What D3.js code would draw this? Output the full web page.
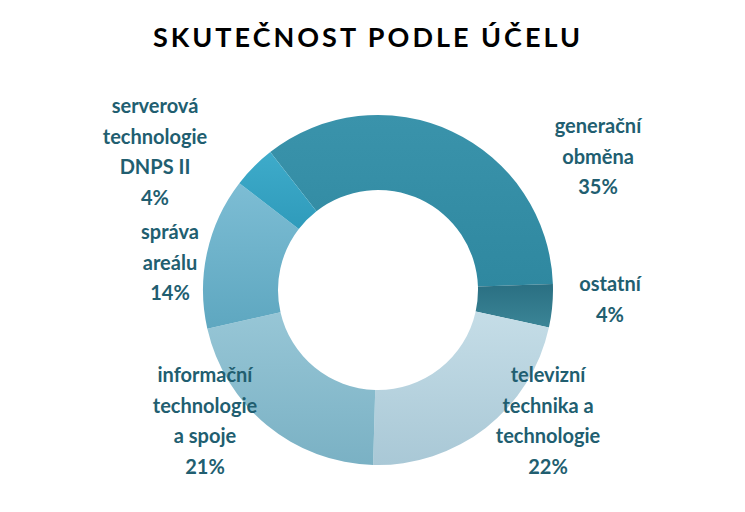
<!DOCTYPE html>
<html><head><meta charset="utf-8">
<script src="https://cdn.jsdelivr.net/npm/d3@7"></script>
<style>body{margin:0;background:#fff}</style>
</head><body>
<script>
var categories = ["generační obměna", "ostatní", "televizní technika a technologie", "informační technologie a spoje", "správa areálu", "serverová technologie DNPS II"];
var values = [35, 4, 22, 21, 14, 4];
var labelLines = [["generační", "obměna"], ["ostatní"], ["televizní", "technika a", "technologie"], ["informační", "technologie", "a spoje"], ["správa", "areálu"], ["serverová", "technologie", "DNPS II"]];
var colors = [["#3a93ab", "#2f88a0"], ["#2a6f82", "#3b8597"], ["#c5dde7", "#a9c8d6"], ["#97c6d6", "#7ab1c4"], ["#7dbdd4", "#5ea7c0"], ["#3eabca", "#2f9bbb"]];
// label anchor positions (layout only)
var labelPos = [[598, 133], [610, 291], [548, 382], [205, 382], [170, 239], [155, 113]];

var width = 745, height = 512, cx = 378, cy = 290, rOut = 175, rIn = 100;

var svg = d3.select("body").append("svg")
    .attr("width", width)
    .attr("height", height);

var defs = svg.append("defs");
colors.forEach(function(c, i) {
  var g = defs.append("linearGradient").attr("id", "g" + i)
      .attr("x1", "0").attr("y1", "0").attr("x2", "0").attr("y2", "1");
  g.append("stop").attr("offset", "0").attr("stop-color", c[0]);
  g.append("stop").attr("offset", "1").attr("stop-color", c[1]);
});

svg.append("text")
    .attr("x", 368).attr("y", 47)
    .attr("text-anchor", "middle")
    .attr("font-family", "Lato, 'Open Sans', sans-serif")
    .attr("font-weight", "bold")
    .attr("font-size", 27)
    .attr("letter-spacing", 3)
    .text("SKUTEČNOST PODLE ÚČELU");

var start = -38 * Math.PI / 180;
var pie = d3.pie().sort(null).startAngle(start).endAngle(start + 2 * Math.PI);
var arc = d3.arc().innerRadius(rIn).outerRadius(rOut);

svg.append("g").attr("transform", "translate(" + cx + "," + cy + ")")
  .selectAll("path").data(pie(values)).enter().append("path")
    .attr("d", arc)
    .attr("fill", function(d, i) { return "url(#g" + i + ")"; });

var lab = svg.selectAll("text.lab").data(values).enter().append("text")
    .attr("class", "lab")
    .attr("text-anchor", "middle")
    .attr("font-family", "Lato, 'Open Sans', sans-serif")
    .attr("font-weight", "bold")
    .attr("font-size", 20)
    .attr("fill", "#215e70");

lab.each(function(v, i) {
  var t = d3.select(this);
  labelLines[i].concat([v + "%"]).forEach(function(s, k) {
    t.append("tspan").attr("x", labelPos[i][0]).attr("y", labelPos[i][1] + k * 30.5).text(s);
  });
});
</script>
</body></html>
